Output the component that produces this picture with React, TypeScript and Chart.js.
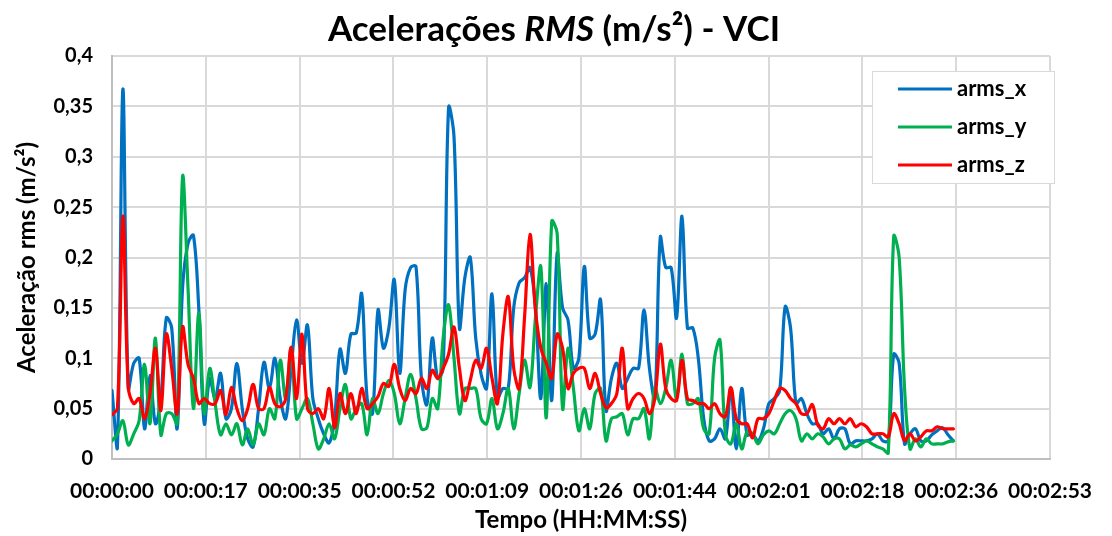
import { useEffect, useRef } from "react";
import { Chart, registerables } from "chart.js";

Chart.register(...registerables);

// ---- data (seconds since start, one sample per second) ----
const TIME_S: number[] = Array.from({ length: 156 }, (_, i) => i);

const ARMS_X = [
  0.068, 0.012, 0.367, 0.07, 0.095, 0.1, 0.03, 0.083, 0.035, 0.06,
  0.14, 0.13, 0.03, 0.17, 0.214, 0.222, 0.148, 0.035, 0.08, 0.06,
  0.085, 0.04, 0.05, 0.095, 0.05, 0.02, 0.012, 0.05, 0.096, 0.07,
  0.1, 0.06, 0.04, 0.09, 0.138, 0.095, 0.133, 0.06, 0.04, 0.025,
  0.016, 0.04, 0.109, 0.085, 0.124, 0.125, 0.164, 0.06, 0.045, 0.148,
  0.11, 0.13, 0.178, 0.085, 0.168, 0.19, 0.191, 0.08, 0.054, 0.12,
  0.08, 0.09, 0.349, 0.32, 0.13, 0.18, 0.2, 0.12, 0.084, 0.07,
  0.164, 0.06, 0.07, 0.07, 0.15, 0.175, 0.18, 0.19, 0.15, 0.06,
  0.174, 0.058, 0.204, 0.15, 0.138, 0.09, 0.1, 0.191, 0.12, 0.124,
  0.158, 0.048, 0.08, 0.095, 0.07, 0.08, 0.09, 0.09, 0.148, 0.09,
  0.06, 0.22, 0.19, 0.19, 0.14, 0.241, 0.13, 0.13, 0.1, 0.04,
  0.018, 0.02, 0.03, 0.02, 0.07, 0.01, 0.07, 0.024, 0.025, 0.018,
  0.03, 0.055, 0.06, 0.068, 0.151, 0.13, 0.055, 0.06, 0.045, 0.035,
  0.035, 0.025, 0.03, 0.02, 0.03, 0.03, 0.015, 0.018, 0.018, 0.018,
  0.02, 0.025, 0.018, 0.018, 0.104, 0.095, 0.015, 0.025, 0.03, 0.018,
  0.018, 0.024, 0.028, 0.031, 0.024, 0.018,
];

const ARMS_Y = [
  0.018, 0.025, 0.038, 0.014, 0.025, 0.038, 0.094, 0.035, 0.12, 0.024,
  0.045, 0.045, 0.035, 0.28, 0.17, 0.05, 0.145, 0.045, 0.09, 0.055,
  0.024, 0.035, 0.024, 0.035, 0.014, 0.03, 0.014, 0.035, 0.024, 0.05,
  0.04, 0.098, 0.06, 0.11, 0.04, 0.05, 0.06, 0.035, 0.01, 0.02,
  0.035, 0.02, 0.05, 0.074, 0.04, 0.05, 0.055, 0.024, 0.06, 0.045,
  0.065, 0.078, 0.065, 0.035, 0.06, 0.084, 0.06, 0.03, 0.031, 0.06,
  0.05, 0.12, 0.153, 0.1, 0.045, 0.07, 0.07, 0.07, 0.04, 0.035,
  0.06, 0.03, 0.045, 0.07, 0.03, 0.065, 0.098, 0.071, 0.14, 0.191,
  0.041, 0.236, 0.224, 0.05, 0.11, 0.07, 0.028, 0.05, 0.03, 0.065,
  0.07, 0.018, 0.04, 0.042, 0.045, 0.024, 0.04, 0.04, 0.05, 0.02,
  0.071, 0.055, 0.07, 0.098, 0.06, 0.104, 0.055, 0.055, 0.06, 0.03,
  0.025, 0.1, 0.118, 0.024, 0.015, 0.035, 0.01, 0.027, 0.025, 0.015,
  0.024, 0.028, 0.025, 0.035, 0.045, 0.048, 0.04, 0.018, 0.025, 0.02,
  0.025, 0.022, 0.015, 0.02, 0.02, 0.01, 0.014, 0.012, 0.015, 0.018,
  0.015, 0.012, 0.01, 0.006, 0.221, 0.2, 0.07, 0.01, 0.02, 0.012,
  0.02, 0.015, 0.015, 0.015, 0.017, 0.018,
];

const ARMS_Z = [
  0.044, 0.05, 0.241, 0.071, 0.055, 0.06, 0.04, 0.065, 0.11, 0.048,
  0.124, 0.09, 0.045, 0.131, 0.094, 0.08, 0.055, 0.06, 0.055, 0.055,
  0.068, 0.044, 0.071, 0.05, 0.038, 0.05, 0.074, 0.05, 0.05, 0.071,
  0.055, 0.052, 0.06, 0.111, 0.06, 0.124, 0.05, 0.045, 0.05, 0.04,
  0.07, 0.031, 0.065, 0.045, 0.065, 0.045, 0.07, 0.05, 0.055, 0.062,
  0.075, 0.072, 0.094, 0.07, 0.058, 0.07, 0.065, 0.08, 0.07, 0.088,
  0.08, 0.09, 0.104, 0.131, 0.09, 0.058, 0.078, 0.098, 0.09, 0.11,
  0.08, 0.055, 0.124, 0.161, 0.09, 0.07, 0.141, 0.223, 0.148, 0.11,
  0.095, 0.08, 0.124, 0.11, 0.07, 0.085, 0.09, 0.09, 0.07, 0.085,
  0.065, 0.051, 0.055, 0.065, 0.11, 0.05, 0.06, 0.065, 0.06, 0.045,
  0.06, 0.114, 0.07, 0.06, 0.058, 0.098, 0.06, 0.058, 0.055, 0.055,
  0.05, 0.055, 0.045, 0.042, 0.071, 0.04, 0.035, 0.035, 0.021, 0.04,
  0.04, 0.045, 0.058, 0.07, 0.068, 0.06, 0.055, 0.045, 0.045, 0.054,
  0.034, 0.03, 0.04, 0.035, 0.04, 0.035, 0.04, 0.032, 0.035, 0.032,
  0.025, 0.025, 0.025, 0.022, 0.045, 0.035, 0.018, 0.025, 0.018, 0.022,
  0.028, 0.028, 0.032, 0.03, 0.03, 0.03,
];

const SERIES_NAMES = ["arms_x", "arms_y", "arms_z"];
const SERIES_COLORS = ["#0070C0", "#00B050", "#FF0000"];

const X_TICK_VALUES = [0, 17.28, 34.56, 51.84, 69.12, 86.4, 103.68, 120.96, 138.24, 155.52, 172.8];
const X_TICK_LABELS = [
  "00:00:00", "00:00:17", "00:00:35", "00:00:52", "00:01:09", "00:01:26",
  "00:01:44", "00:02:01", "00:02:18", "00:02:36", "00:02:53",
];
const Y_TICK_VALUES = [0, 0.05, 0.1, 0.15, 0.2, 0.25, 0.3, 0.35, 0.4];
const Y_TICK_LABELS = ["0", "0,05", "0,1", "0,15", "0,2", "0,25", "0,3", "0,35", "0,4"];

const TITLE_PARTS = [
  { text: "Acelerações ", italic: false },
  { text: "RMS", italic: true },
  { text: " (m/s²) - VCI", italic: false },
];
const X_TITLE = "Tempo (HH:MM:SS)";
const Y_TITLE = "Aceleração rms (m/s²)";

const FONT = "Lato, 'Open Sans', sans-serif";

const titlePlugin = {
  id: "mixedTitle",
  afterDraw(chart: any) {
    const ctx = chart.ctx;
    ctx.save();
    ctx.fillStyle = "#000";
    ctx.textBaseline = "middle";
    ctx.textAlign = "left";
    const fontFor = (it: boolean) => `${it ? "italic " : ""}bold 35px ${FONT}`;
    let total = 0;
    for (const p of TITLE_PARTS) {
      ctx.font = fontFor(p.italic);
      total += ctx.measureText(p.text).width;
    }
    let x = 554 - total / 2;
    for (const p of TITLE_PARTS) {
      ctx.font = fontFor(p.italic);
      ctx.fillText(p.text, x, 30);
      x += ctx.measureText(p.text).width;
    }
    ctx.restore();
  },
};

const legendPlugin = {
  id: "boxLegend",
  afterDraw(chart: any) {
    const ctx = chart.ctx;
    ctx.save();
    ctx.fillStyle = "#ffffff";
    ctx.fillRect(872, 71, 182, 112);
    ctx.strokeStyle = "#d9d9d9";
    ctx.lineWidth = 1;
    ctx.strokeRect(872.5, 71.5, 182, 112);
    ctx.font = `bold 22px ${FONT}`;
    ctx.textBaseline = "middle";
    ctx.textAlign = "left";
    const ys = [89, 127, 165];
    SERIES_NAMES.forEach((name, i) => {
      ctx.strokeStyle = SERIES_COLORS[i];
      ctx.lineWidth = 3;
      ctx.beginPath();
      ctx.moveTo(898, ys[i]);
      ctx.lineTo(952, ys[i]);
      ctx.stroke();
      ctx.fillStyle = "#000";
      ctx.fillText(name, 957, ys[i]);
    });
    ctx.restore();
  },
};

export default function App() {
  const ref = useRef<HTMLCanvasElement | null>(null);

  useEffect(() => {
    document.body.style.margin = "0";
    const canvas = ref.current;
    if (!canvas) return;
    const seriesValues = [ARMS_X, ARMS_Y, ARMS_Z];
    const chart = new Chart(canvas, {
      type: "line",
      data: {
        datasets: SERIES_NAMES.map((name, i) => ({
          label: name,
          data: TIME_S.map((t, k) => ({ x: t, y: seriesValues[i][k] })),
          borderColor: SERIES_COLORS[i],
          backgroundColor: SERIES_COLORS[i],
          borderWidth: 3.2,
          pointRadius: 0,
          tension: 0.35,
          borderJoinStyle: "round" as const,
          borderCapStyle: "round" as const,
          order: 3 - i,
        })),
      },
      options: {
        animation: false,
        responsive: false,
        layout: { padding: { top: 56, right: 50, bottom: 0, left: 0 } },
        plugins: {
          legend: { display: false },
          tooltip: { enabled: false },
          title: { display: false },
        },
        scales: {
          x: {
            type: "linear",
            min: 0,
            max: 172.8,
            afterBuildTicks: (s: any) => {
              s.ticks = X_TICK_VALUES.map((v) => ({ value: v }));
            },
            afterFit: (s: any) => {
              s.height = 77;
            },
            ticks: {
              autoSkip: false,
              maxRotation: 0,
              padding: 20,
              color: "#000",
              font: { family: FONT, size: 21, weight: "bold" },
              callback: (_v: any, i: number) => X_TICK_LABELS[i],
            },
            grid: { color: "#d9d9d9", lineWidth: 2, drawTicks: false },
            border: { display: true, color: "#bfbfbf", width: 2 },
            title: {
              display: true,
              text: X_TITLE,
              color: "#000",
              font: { family: FONT, size: 24, weight: "bold" },
              padding: { top: 0, bottom: 1 },
            },
          },
          y: {
            type: "linear",
            min: 0,
            max: 0.4,
            afterBuildTicks: (s: any) => {
              s.ticks = Y_TICK_VALUES.map((v) => ({ value: v }));
            },
            afterFit: (s: any) => {
              s.width = 112;
            },
            ticks: {
              padding: 19,
              color: "#000",
              font: { family: FONT, size: 20, weight: "bold" },
              callback: (_v: any, i: number) => Y_TICK_LABELS[i],
            },
            grid: { color: "#d9d9d9", lineWidth: 2, drawTicks: false },
            border: { display: true, color: "#bfbfbf", width: 2 },
            title: {
              display: true,
              text: Y_TITLE,
              color: "#000",
              font: { family: FONT, size: 24, weight: "bold" },
              padding: { top: 13, bottom: 0 },
            },
          },
        },
      },
      plugins: [titlePlugin, legendPlugin],
    } as any);
    return () => chart.destroy();
  }, []);

  return (
    <div style={{ width: 1112, height: 536, background: "#fff" }}>
      <canvas ref={ref} width={1112} height={536} style={{ display: "block" }} />
    </div>
  );
}
